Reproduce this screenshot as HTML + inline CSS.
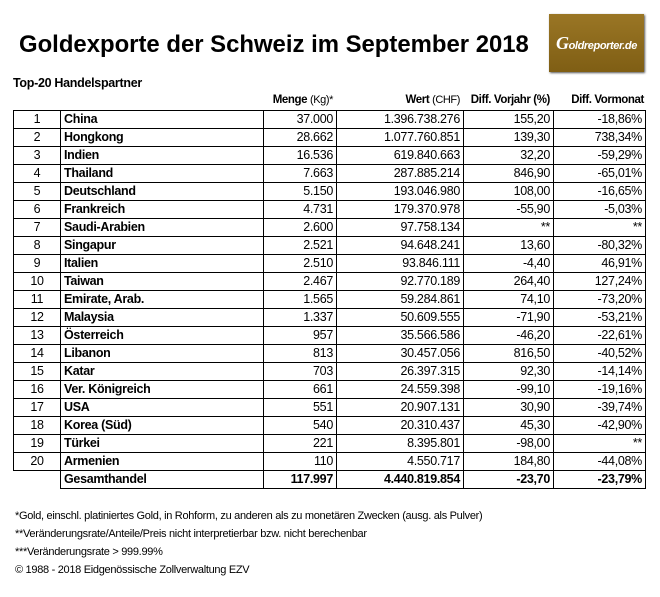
<!DOCTYPE html>
<html><head><meta charset="utf-8"><style>
body{margin:0;width:660px;height:597px;background:#fff;font-family:"Liberation Sans",Arial,sans-serif;color:#000;position:relative;overflow:hidden}
.t{position:absolute;left:19px;top:31px;font-size:23.9px;font-weight:bold;white-space:nowrap}
.logo{position:absolute;left:549px;top:14px;width:95px;height:58px;background:linear-gradient(#9a7625,#7f5e14);box-shadow:1px 1px 2px #555;color:#fff;font-size:11px;font-weight:bold;font-style:italic;line-height:58px;text-align:center;letter-spacing:-0.4px;white-space:nowrap}
.logo span{font-size:18px;font-family:"Liberation Serif",serif}
.sub{position:absolute;left:13px;top:76px;font-size:12.5px;font-weight:bold;letter-spacing:-0.3px}
.hd{position:absolute;top:94px;font-size:11.5px;font-weight:bold;letter-spacing:-0.4px;white-space:nowrap;text-align:right}
.hd small{font-weight:normal;font-size:11px}
table{position:absolute;left:13px;top:110px;border-collapse:collapse;table-layout:fixed;width:632px;font-size:12.5px;letter-spacing:-0.3px}
td{border:1px solid #000;height:17px;padding:0 3px;line-height:17px;white-space:nowrap;overflow:hidden}
td.n{text-align:center}
td.c{font-weight:bold}
td.r{text-align:right}
tr.tot td{font-weight:bold}
tr.tot td.e{border:none;border-top:1px solid #000}
.f{position:absolute;left:15px;font-size:11px;letter-spacing:-0.3px}
</style></head><body>
<div class="t">Goldexporte der Schweiz im September 2018</div>
<div class="logo"><span>G</span>oldreporter.de</div>
<div class="sub">Top-20 Handelspartner</div>
<div class="hd" style="right:327px">Menge <small>(Kg)*</small></div>
<div class="hd" style="right:200px">Wert <small>(CHF)</small></div>
<div class="hd" style="right:110px">Diff. Vorjahr (%)</div>
<div class="hd" style="right:16px">Diff. Vormonat</div>
<table>
<colgroup><col style="width:47px"><col style="width:203px"><col style="width:73px"><col style="width:127px"><col style="width:90px"><col style="width:92px"></colgroup>
<tr><td class="n">1</td><td class="c">China</td><td class="r">37.000</td><td class="r">1.396.738.276</td><td class="r">155,20</td><td class="r">-18,86%</td></tr>
<tr><td class="n">2</td><td class="c">Hongkong</td><td class="r">28.662</td><td class="r">1.077.760.851</td><td class="r">139,30</td><td class="r">738,34%</td></tr>
<tr><td class="n">3</td><td class="c">Indien</td><td class="r">16.536</td><td class="r">619.840.663</td><td class="r">32,20</td><td class="r">-59,29%</td></tr>
<tr><td class="n">4</td><td class="c">Thailand</td><td class="r">7.663</td><td class="r">287.885.214</td><td class="r">846,90</td><td class="r">-65,01%</td></tr>
<tr><td class="n">5</td><td class="c">Deutschland</td><td class="r">5.150</td><td class="r">193.046.980</td><td class="r">108,00</td><td class="r">-16,65%</td></tr>
<tr><td class="n">6</td><td class="c">Frankreich</td><td class="r">4.731</td><td class="r">179.370.978</td><td class="r">-55,90</td><td class="r">-5,03%</td></tr>
<tr><td class="n">7</td><td class="c">Saudi-Arabien</td><td class="r">2.600</td><td class="r">97.758.134</td><td class="r">**</td><td class="r">**</td></tr>
<tr><td class="n">8</td><td class="c">Singapur</td><td class="r">2.521</td><td class="r">94.648.241</td><td class="r">13,60</td><td class="r">-80,32%</td></tr>
<tr><td class="n">9</td><td class="c">Italien</td><td class="r">2.510</td><td class="r">93.846.111</td><td class="r">-4,40</td><td class="r">46,91%</td></tr>
<tr><td class="n">10</td><td class="c">Taiwan</td><td class="r">2.467</td><td class="r">92.770.189</td><td class="r">264,40</td><td class="r">127,24%</td></tr>
<tr><td class="n">11</td><td class="c">Emirate, Arab.</td><td class="r">1.565</td><td class="r">59.284.861</td><td class="r">74,10</td><td class="r">-73,20%</td></tr>
<tr><td class="n">12</td><td class="c">Malaysia</td><td class="r">1.337</td><td class="r">50.609.555</td><td class="r">-71,90</td><td class="r">-53,21%</td></tr>
<tr><td class="n">13</td><td class="c">Österreich</td><td class="r">957</td><td class="r">35.566.586</td><td class="r">-46,20</td><td class="r">-22,61%</td></tr>
<tr><td class="n">14</td><td class="c">Libanon</td><td class="r">813</td><td class="r">30.457.056</td><td class="r">816,50</td><td class="r">-40,52%</td></tr>
<tr><td class="n">15</td><td class="c">Katar</td><td class="r">703</td><td class="r">26.397.315</td><td class="r">92,30</td><td class="r">-14,14%</td></tr>
<tr><td class="n">16</td><td class="c">Ver. Königreich</td><td class="r">661</td><td class="r">24.559.398</td><td class="r">-99,10</td><td class="r">-19,16%</td></tr>
<tr><td class="n">17</td><td class="c">USA</td><td class="r">551</td><td class="r">20.907.131</td><td class="r">30,90</td><td class="r">-39,74%</td></tr>
<tr><td class="n">18</td><td class="c">Korea (Süd)</td><td class="r">540</td><td class="r">20.310.437</td><td class="r">45,30</td><td class="r">-42,90%</td></tr>
<tr><td class="n">19</td><td class="c">Türkei</td><td class="r">221</td><td class="r">8.395.801</td><td class="r">-98,00</td><td class="r">**</td></tr>
<tr><td class="n">20</td><td class="c">Armenien</td><td class="r">110</td><td class="r">4.550.717</td><td class="r">184,80</td><td class="r">-44,08%</td></tr>
<tr class="tot"><td class="e"></td><td class="c">Gesamthandel</td><td class="r">117.997</td><td class="r">4.440.819.854</td><td class="r">-23,70</td><td class="r">-23,79%</td></tr>
</table>
<div class="f" style="top:510px">*Gold, einschl. platiniertes Gold, in Rohform, zu anderen als zu monetären Zwecken (ausg. als Pulver)</div>
<div class="f" style="top:528px">**Veränderungsrate/Anteile/Preis nicht interpretierbar bzw. nicht berechenbar</div>
<div class="f" style="top:546px">***Veränderungsrate &gt; 999.99%</div>
<div class="f" style="top:564px">© 1988 - 2018 Eidgenössische Zollverwaltung EZV</div>
</body></html>
